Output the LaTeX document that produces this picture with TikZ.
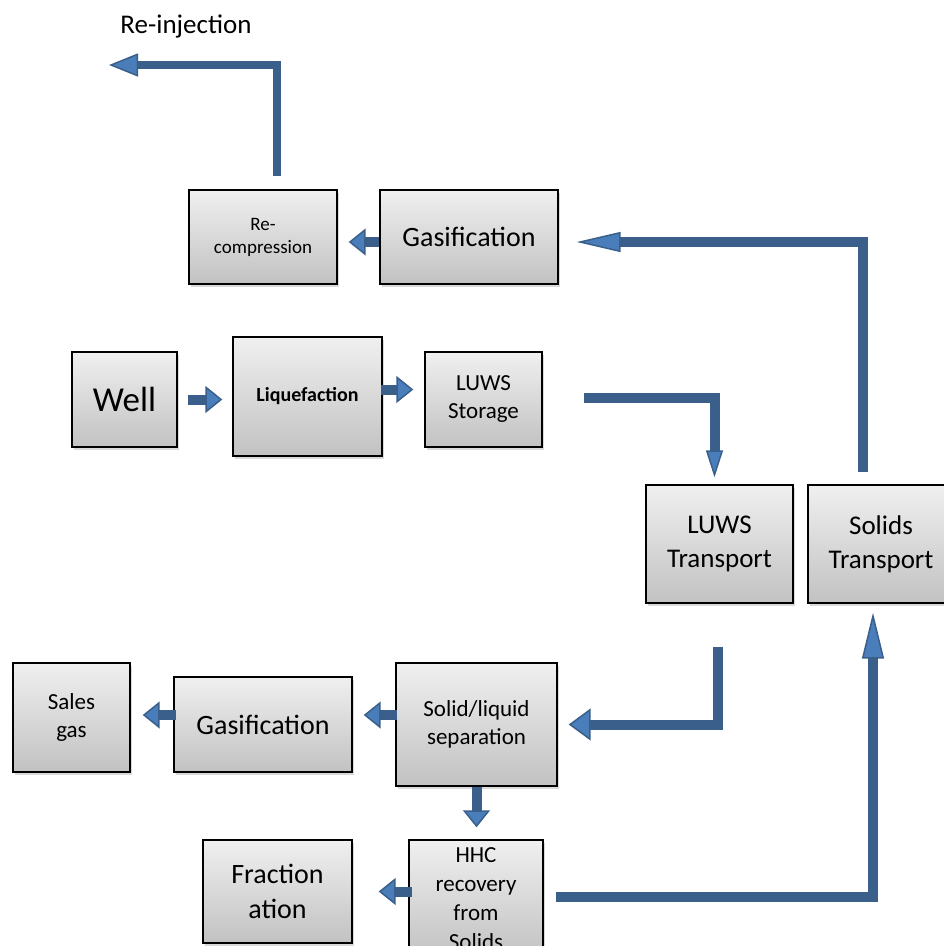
\documentclass[tikz,border=0pt]{standalone}
\usepackage{fontspec}
\setmainfont{Carlito}
\usetikzlibrary{arrows.meta,shadows}
\definecolor{flowblue}{HTML}{3A5F8B}
\definecolor{flowlight}{HTML}{4A7EBB}

\begin{document}
\begin{tikzpicture}[x = 1pt, y = -1pt,
        box/.style = {draw, line width = 1.4pt, top color = white!94!black, bottom color = white!76!black,
            drop shadow = {opacity = 0.3, shadow xshift = 2pt, shadow yshift = -3pt},
            align = center, inner sep = 2pt},
        flow/.style = {draw = flowblue, line width = 10pt},
        flowhead/.style 2 args = {-{Triangle[width = #1, length = #2, fill = flowlight, line width = 1.5pt]}},
        block/.style = {flow, flowhead = {27pt}{17pt}}]

        \clip (0, 0) rectangle (944, 946);

        % Re-injection
        \node (reinjtext) [anchor = base, font = \fontsize{27}{32}\selectfont] at (186, 33) {Re-injection};
        \coordinate (reinj) at (109, 65);

        % Top row
        \node (recomp) [box, minimum width = 148, minimum height = 94, font = \fontsize{19}{23}\selectfont] at (263, 237) {Re-\\compression};
        \node (gastop) [box, minimum width = 178, minimum height = 94, font = \fontsize{28}{34}\selectfont] at (469, 237) {Gasification};

        % Well row
        \node (well) [box, minimum width = 105, minimum height = 95, font = \fontsize{35}{42}\selectfont] at (124.5, 399.5) {Well};
        \node (liq) [box, minimum width = 149, minimum height = 119, font = \fontsize{20}{24}\selectfont\bfseries] at (307.5, 396.5) {Liquefaction};
        \node (storage) [box, minimum width = 117, minimum height = 95, font = \fontsize{23}{28}\selectfont] at (483.5, 399.5) {LUWS\\Storage};

        % Transport
        \node (luwst) [box, minimum width = 147, minimum height = 118, font = \fontsize{27}{34}\selectfont] at (719.5, 544) {LUWS\\Transport};
        \node (solidst) [box, minimum width = 146, minimum height = 118, font = \fontsize{27}{34}\selectfont] at (881, 544) {Solids\\Transport};

        % Bottom rows
        \node (sales) [box, minimum width = 117, minimum height = 109, font = \fontsize{23}{28}\selectfont] at (71.5, 717.5) {Sales\\gas};
        \node (gasbot) [box, minimum width = 178, minimum height = 95, font = \fontsize{28}{34}\selectfont] at (263, 724.5) {Gasification};
        \node (sep) [box, minimum width = 161, minimum height = 123, font = \fontsize{23}{28}\selectfont] at (476.5, 724.5) {Solid/liquid\\separation};
        \node (hhc) [box, minimum width = 134, minimum height = 118, font = \fontsize{23}{29}\selectfont] at (476, 899) {HHC\\recovery\\from\\Solids};
        \node (frac) [box, minimum width = 149, minimum height = 103, font = \fontsize{28}{35}\selectfont] at (277.5, 891.5) {Fraction\\ation};

        %% Short block arrows
        \draw [block] ([xshift = 10]well.east) -- ([xshift = -10]well.east -| liq.west);
        \draw [block] ([xshift = -2, yshift = 7]liq.east) -- ([xshift = -11, yshift = 7]liq.east -| storage.west);
        \draw [block] ([yshift = -5]gastop.west) -- ([xshift = 11, yshift = -5]gastop.west -| recomp.east);
        \draw [block] ([xshift = 3, yshift = 2.5]sales.east -| gasbot.west) -- ([xshift = 12, yshift = 2.5]sales.east);
        \draw [block] ([xshift = 2, yshift = 9.5]sep.west) -- ([xshift = 11, yshift = 9.5]sep.west -| gasbot.east);
        \draw [block] (sep.south) -- ([yshift = 12]hhc.north -| sep.south);
        \draw [block] ([xshift = 4]frac.east -| hhc.west) -- ([xshift = 26]frac.east);

        %% Long connectors
        \draw [flow, line width = 8pt, flowhead = {23pt}{29pt}] ([xshift = 14, yshift = 13]recomp.north) |- (reinj);
        \draw [flow, flowhead = {20pt}{44pt}] ([xshift = -18, yshift = 12]solidst.north) |- ([xshift = 18, yshift = -5]gastop.east);
        \draw [flow, flowhead = {17pt}{27pt}] ([xshift = 41, yshift = 1.5]storage.east) -| ([xshift = -5, yshift = 7]luwst.north);
        \draw [flow, flowhead = {32pt}{22pt}] ([xshift = -2, yshift = -43]luwst.south) |- ([xshift = 11]sep.east);
        \draw [flow, flowhead = {22pt}{46pt}] ([xshift = 12, yshift = 2]hhc.east) -| ([xshift = -8, yshift = -9]solidst.south);

    \end{tikzpicture}
\end{document}
